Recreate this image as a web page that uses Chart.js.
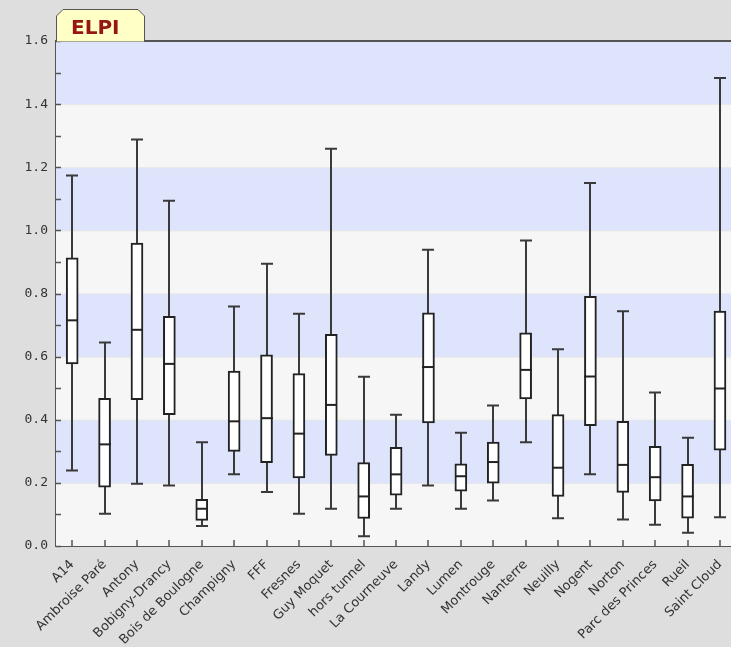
<!DOCTYPE html>
<html><head><meta charset="utf-8">
<script src="https://cdn.jsdelivr.net/npm/chart.js@4/dist/chart.umd.min.js"></script>
<style>
html,body{margin:0;padding:0;background:#dedede;overflow:hidden;width:731px;height:647px;}
#wrap{position:absolute;left:0;top:0;width:742px;height:647px;}
#tab{position:absolute;left:56px;top:9px;width:89px;height:33px;}
#tab svg{position:absolute;left:0;top:0;}
#tab span{position:absolute;left:15px;top:8px;font:bold 20px "DejaVu Sans";line-height:20px;color:#961515;white-space:nowrap;}
</style></head><body>
<div id="wrap"><canvas id="c" width="742" height="647"></canvas></div>
<div id="tab"><svg width="89" height="33"><polygon points="0.5,33 0.5,7 7,0.5 82,0.5 88.5,7 88.5,33" fill="#ffffc6" stroke="#555" stroke-width="1"/></svg><span>ELPI</span></div>
<script>
const categories = ["A14","Ambroise Paré","Antony","Bobigny-Drancy","Bois de Boulogne","Champigny","FFF","Fresnes","Guy Moquet","hors tunnel","La Courneuve","Landy","Lumen","Montrouge","Nanterre","Neuilly","Nogent","Norton","Parc des Princes","Rueil","Saint Cloud"];
const whiskerMin = [0.239,0.102,0.197,0.192,0.063,0.227,0.171,0.102,0.118,0.031,0.118,0.192,0.118,0.144,0.329,0.088,0.227,0.084,0.067,0.042,0.091];
const q1Values   = [0.577,0.186,0.464,0.416,0.081,0.300,0.264,0.216,0.287,0.087,0.161,0.390,0.174,0.199,0.466,0.157,0.381,0.170,0.143,0.088,0.304];
const medians    = [0.715,0.322,0.685,0.577,0.118,0.395,0.405,0.356,0.447,0.157,0.227,0.567,0.221,0.266,0.558,0.248,0.537,0.257,0.218,0.157,0.499];
const q3Values   = [0.913,0.468,0.960,0.728,0.148,0.554,0.606,0.546,0.671,0.264,0.313,0.739,0.260,0.329,0.675,0.416,0.791,0.395,0.316,0.259,0.744];
const whiskerMax = [1.174,0.645,1.288,1.094,0.329,0.759,0.894,0.736,1.259,0.536,0.416,0.939,0.359,0.445,0.968,0.623,1.150,0.744,0.486,0.343,1.483];
const yTickValues = [0,0.2,0.4,0.6,0.8,1.0,1.2,1.4,1.6];

const BOX_W = 12;
const boxParts = {
  id: 'boxParts',
  beforeDatasetsDraw(chart) {
    const {ctx, chartArea: a, scales: {x, y}} = chart;
    ctx.save();
    for (let i = 0; i < yTickValues.length - 1; i++) {
      const yb = y.getPixelForValue(yTickValues[i]);
      const yt = y.getPixelForValue(yTickValues[i + 1]);
      ctx.fillStyle = (i % 2 === 1) ? '#dde4fc' : '#f6f6f6';
      ctx.fillRect(a.left, yt, a.right - a.left, yb - yt);
      ctx.fillStyle = '#e6e6ea';
      ctx.fillRect(a.left, yt, a.right - a.left, 1);
    }
    ctx.strokeStyle = '#3a3a3a';
    ctx.lineWidth = 2;
    categories.forEach((c, i) => {
      const px = Math.round(x.getPixelForValue(i));
      const yMin = y.getPixelForValue(whiskerMin[i]);
      const yMax = y.getPixelForValue(whiskerMax[i]);
      ctx.beginPath();
      ctx.moveTo(px, yMin); ctx.lineTo(px, yMax);
      ctx.moveTo(px - BOX_W / 2, yMin); ctx.lineTo(px + BOX_W / 2, yMin);
      ctx.moveTo(px - BOX_W / 2, yMax); ctx.lineTo(px + BOX_W / 2, yMax);
      ctx.stroke();
    });
    ctx.restore();
  },
  afterDatasetsDraw(chart) {
    const {ctx, chartArea: a, scales: {x, y}} = chart;
    ctx.save();
    ctx.strokeStyle = '#222';
    ctx.lineWidth = 2;
    categories.forEach((c, i) => {
      const px = Math.round(x.getPixelForValue(i));
      const ym = y.getPixelForValue(medians[i]);
      ctx.beginPath();
      ctx.moveTo(px - BOX_W / 2, ym); ctx.lineTo(px + BOX_W / 2, ym);
      ctx.stroke();
    });
    ctx.strokeStyle = '#555';
    ctx.lineWidth = 1.5;
    ctx.beginPath();
    for (let v = y.min; v <= y.max + 1e-9; v += 0.1) {
      const py = Math.round(y.getPixelForValue(v)) + 0.5;
      ctx.moveTo(a.left, py); ctx.lineTo(a.left + 5, py);
    }
    categories.forEach((c, i) => {
      const px = Math.round(x.getPixelForValue(i));
      ctx.moveTo(px, a.bottom); ctx.lineTo(px, a.bottom - 6);
    });
    ctx.stroke();
    ctx.strokeStyle = '#555';
    ctx.lineWidth = 2;
    ctx.beginPath();
    ctx.moveTo(a.left, a.top); ctx.lineTo(a.right, a.top);
    ctx.stroke();
    ctx.restore();
  }
};

new Chart(document.getElementById('c'), {
  type: 'bar',
  data: {
    labels: categories,
    datasets: [{
      data: q1Values.map((v, i) => [v, q3Values[i]]),
      backgroundColor: '#ffffff',
      borderColor: '#222',
      borderWidth: 2,
      borderSkipped: false,
      barThickness: BOX_W
    }]
  },
  options: {
    responsive: false,
    devicePixelRatio: 1,
    animation: false,
    layout: {padding: {top: 41, left: 0, right: 0, bottom: 0}},
    plugins: {legend: {display: false}, tooltip: {enabled: false}, title: {display: false}},
    scales: {
      x: {
        grid: {display: false, drawTicks: false},
        border: {display: true, color: '#555', width: 2},
        ticks: {maxRotation: 45, minRotation: 45, autoSkip: false, color: '#333', padding: 11,
                font: {family: 'DejaVu Sans', size: 13}},
        afterFit(s) { s.height = 101; }
      },
      y: {
        min: 0, max: 1.6,
        grid: {display: false, drawTicks: false},
        border: {display: true, color: '#555', width: 2},
        ticks: {stepSize: 0.2, color: '#333', padding: 8,
                font: {family: 'DejaVu Sans Mono', size: 13},
                callback: v => Number(v).toFixed(1)},
        afterFit(s) { s.width = 56; }
      }
    }
  },
  plugins: [boxParts]
});
</script>
</body></html>
